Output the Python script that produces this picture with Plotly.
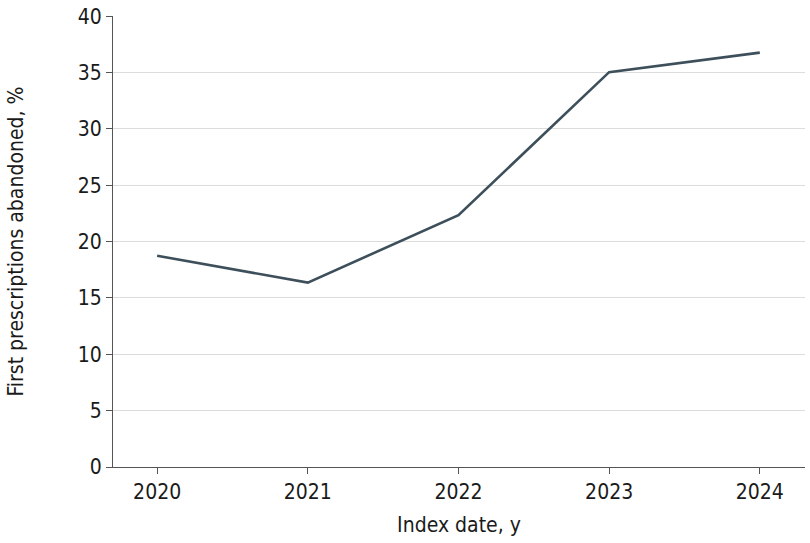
import plotly.graph_objects as go

years = [2020, 2021, 2022, 2023, 2024]
abandoned = [18.74, 16.36, 22.35, 35.04, 36.77]

y_ticks = [0, 5, 10, 15, 20, 25, 30, 35, 40]

fig = go.Figure()
fig.add_trace(go.Scatter(
    x=years, y=abandoned, mode="lines",
    line=dict(color="#3d4f5b", width=2.6),
    showlegend=False,
))

fig.update_layout(
    width=810, height=543,
    margin=dict(l=113, r=5, t=13, b=76),
    paper_bgcolor="white", plot_bgcolor="white",
    font=dict(family="DejaVu Sans Condensed, sans-serif", size=21, color="#1a1a1a"),
)
fig.update_xaxes(
    range=[2019.707, 2024.3],
    tickvals=years, ticktext=[str(y) for y in years],
    ticks="outside", ticklen=6, tickcolor="#555", tickwidth=1.2,
    showline=True, linecolor="#555", linewidth=1.2,
    showgrid=False, zeroline=False,
    title=dict(text="Index date, y", font=dict(size=21), standoff=14),
)
fig.update_yaxes(
    range=[0, 40.02],
    tickvals=y_ticks,
    ticks="outside", ticklen=6, tickcolor="#555", tickwidth=1.2,
    showline=True, linecolor="#555", linewidth=1.2,
    showgrid=True, gridcolor="#dcdcdc", gridwidth=1.2,
    zeroline=False,
    title=dict(text="First prescriptions abandoned, %", font=dict(size=21), standoff=48),
)

# drop the default page margin so the figure sits at the window's corner
fig.write_html("out.html", config={"displayModeBar": False},
               post_script="document.body.style.margin='0';")
